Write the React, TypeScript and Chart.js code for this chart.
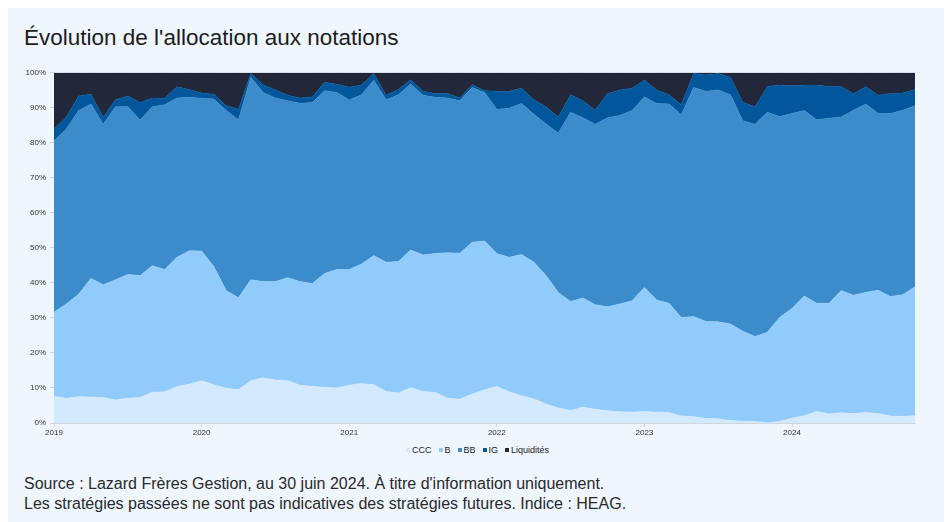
import React, { useEffect, useRef } from "react";
import { Chart, registerables } from "chart.js";

Chart.register(...registerables);

const MONTH_COUNT = 71; // janv. 2019 -> nov. 2024
const yearTicks = ["2019", "2020", "2021", "2022", "2023", "2024"];
const yTickValues = [0, 10, 20, 30, 40, 50, 60, 70, 80, 90, 100];

const seriesNames = ["CCC", "B", "BB", "IG", "Liquidités"];
const seriesColors = ["#d3e9fe", "#91cbfb", "#3c8bcb", "#02569b", "#23273a"];

const ccc = [7.6, 7.1, 7.5, 7.4, 7.3, 6.6, 7.1, 7.3, 8.8, 8.9, 10.4, 11.1, 12.1, 10.9, 9.9, 9.5, 12.1, 12.9, 12.3, 12.1, 10.8, 10.4, 10.2, 10.0, 10.8, 11.3, 10.9, 9.0, 8.6, 10.1, 9.0, 8.7, 7.1, 6.8, 8.3, 9.5, 10.4, 8.9, 7.8, 6.9, 5.4, 4.3, 3.6, 4.5, 3.9, 3.5, 3.2, 3.1, 3.3, 3.1, 3.0, 2.0, 1.8, 1.3, 1.2, 0.7, 0.5, 0.4, 0.1, 0.4, 1.4, 2.1, 3.3, 2.6, 2.9, 2.7, 3.0, 2.7, 2.0, 1.9, 2.1];
const b = [24.0, 26.9, 29.3, 33.9, 32.2, 34.3, 35.3, 34.8, 36.1, 34.9, 36.9, 38.1, 37.0, 33.8, 27.9, 26.3, 28.8, 27.5, 28.1, 29.4, 29.6, 29.4, 32.5, 33.8, 33.0, 34.1, 36.9, 36.9, 37.5, 39.3, 39.0, 39.7, 41.5, 41.7, 43.3, 42.5, 38.0, 38.4, 40.3, 39.1, 36.7, 33.0, 31.1, 31.2, 29.9, 29.7, 30.8, 31.8, 35.4, 32.0, 31.2, 28.1, 28.6, 27.7, 27.7, 27.6, 25.7, 24.3, 25.8, 29.8, 31.3, 34.2, 30.9, 31.6, 34.9, 33.8, 34.3, 35.2, 34.1, 34.7, 36.8];
const bb = [49.0, 49.9, 52.4, 49.8, 45.8, 49.4, 47.9, 44.4, 45.4, 47.1, 45.5, 43.8, 43.6, 47.8, 51.4, 50.8, 57.8, 54.0, 52.4, 50.5, 50.9, 51.7, 52.2, 50.6, 48.4, 48.3, 50.1, 46.4, 47.6, 47.4, 45.6, 44.6, 44.2, 43.5, 44.2, 42.4, 41.2, 42.6, 43.1, 42.2, 43.3, 45.5, 54.0, 51.5, 51.5, 54.0, 53.8, 54.3, 54.4, 56.1, 56.9, 57.9, 65.4, 65.7, 66.2, 65.4, 60.1, 60.6, 62.8, 57.3, 55.7, 52.9, 52.4, 52.8, 49.6, 52.8, 53.8, 50.5, 52.3, 52.7, 51.7];
const ig = [3.3, 3.4, 4.2, 2.8, 2.0, 2.0, 3.1, 5.0, 2.5, 1.8, 3.2, 2.2, 1.5, 1.4, 1.4, 3.0, 1.1, 2.2, 2.3, 1.6, 1.5, 1.6, 2.4, 2.3, 3.7, 2.8, 1.9, 1.3, 1.5, 1.2, 1.1, 1.1, 1.3, 0.8, 0.8, 0.5, 5.1, 4.8, 4.4, 4.1, 4.9, 4.6, 5.0, 4.8, 4.1, 6.8, 7.3, 6.4, 4.8, 3.9, 2.6, 2.9, 4.0, 4.7, 4.7, 5.0, 5.3, 5.0, 7.4, 9.0, 7.9, 7.3, 9.9, 9.1, 8.6, 4.7, 4.9, 5.2, 5.7, 4.9, 4.6];
const liquidites = [16.1, 12.7, 6.6, 6.1, 12.7, 7.7, 6.6, 8.5, 7.2, 7.3, 4.0, 4.8, 5.8, 6.1, 9.4, 10.4, 0.2, 3.4, 4.9, 6.4, 7.2, 6.9, 2.7, 3.3, 4.1, 3.5, 0.2, 6.4, 4.8, 2.0, 5.3, 5.9, 5.9, 7.2, 3.4, 5.1, 5.3, 5.3, 4.4, 7.7, 9.7, 12.6, 6.3, 8.0, 10.6, 6.0, 4.9, 4.4, 2.1, 4.9, 6.3, 9.1, 0.2, 0.6, 0.2, 1.3, 8.4, 9.7, 3.9, 3.5, 3.7, 3.5, 3.5, 3.9, 4.0, 6.0, 4.0, 6.4, 5.9, 5.8, 4.8];

const seriesValues = [ccc, b, bb, ig, liquidites];

const FONT = '"Liberation Sans", Arial, Helvetica, sans-serif';

export default function App() {
  const canvasRef = useRef<HTMLCanvasElement | null>(null);

  useEffect(() => {
    const canvas = canvasRef.current;
    if (!canvas) return;
    const datasets = seriesNames.map((name, k) => ({
      label: name,
      data: seriesValues[k].map((v, i) => ({ x: i, y: v })),
      backgroundColor: seriesColors[k],
      borderColor: seriesColors[k],
      borderWidth: 0.6,
      pointRadius: 0,
      pointHoverRadius: 0,
      tension: 0,
      fill: k === 0 ? "origin" : "-1",
    }));

    const chart = new Chart(canvas, {
      type: "line",
      data: { datasets },
      options: {
        animation: false,
        responsive: false,
        maintainAspectRatio: false,
        layout: { padding: { top: 8, right: 15, left: 0, bottom: 0 } },
        plugins: {
          legend: { display: false },
          tooltip: { enabled: false },
        },
        scales: {
          x: {
            type: "linear",
            min: 0,
            max: MONTH_COUNT - 1,
            grid: { drawOnChartArea: false, tickLength: 4, color: "#cfd6de" },
            border: { color: "#cfd6de" },
            afterBuildTicks: (scale: any) => {
              scale.ticks = yearTicks.map((_, j) => ({ value: j * 12 }));
            },
            ticks: {
              autoSkip: false,
              maxRotation: 0,
              padding: 1,
              color: "#333",
              font: { family: FONT, size: 8 },
              callback: (v: any) => yearTicks[Math.round(Number(v) / 12)] ?? "",
            },
            afterFit: (scale: any) => {
              scale.height = 16;
            },
          },
          y: {
            stacked: true,
            min: 0,
            max: 100,
            afterBuildTicks: (scale: any) => {
              scale.ticks = yTickValues.map((v) => ({ value: v }));
            },
            grid: { drawOnChartArea: false, tickLength: 4, color: "#cfd6de" },
            border: { color: "#cfd6de" },
            ticks: {
              padding: 4,
              color: "#333",
              font: { family: FONT, size: 8 },
              callback: (v: any) => `${v}%`,
            },
            afterFit: (scale: any) => {
              scale.width = 38;
            },
          },
        },
      },
    });
    return () => chart.destroy();
  }, []);

  return (
    <div
      style={{
        position: "fixed",
        left: 8,
        top: 8,
        width: 936,
        height: 514,
        background: "#eff6fe",
        fontFamily: FONT,
        color: "#222",
      }}
    >
      <div
        style={{
          position: "absolute",
          left: 16,
          top: 17,
          fontSize: 22.5,
          lineHeight: "26px",
          color: "#1c1c1c",
          whiteSpace: "nowrap",
        }}
      >
        Évolution de l'allocation aux notations
      </div>
      <canvas
        ref={canvasRef}
        width={914}
        height={375}
        style={{ position: "absolute", left: 8, top: 56, width: 914, height: 375 }}
      />
      <div
        style={{
          position: "absolute",
          left: 398,
          top: 437,
          height: 10,
          display: "flex",
          alignItems: "center",
          fontSize: 9,
          lineHeight: "10px",
          color: "#222",
          whiteSpace: "nowrap",
        }}
      >
        {seriesNames.map((name, k) => (
          <div key={name} style={{ display: "flex", alignItems: "center", marginRight: 7 }}>
            <span
              style={{
                display: "inline-block",
                width: 4,
                height: 4,
                background: seriesColors[k],
                marginRight: 2,
              }}
            />
            <span>{name}</span>
          </div>
        ))}
      </div>
      <div
        style={{
          position: "absolute",
          left: 16,
          top: 466,
          fontSize: 16,
          lineHeight: "20px",
          color: "#2a2a2a",
          whiteSpace: "nowrap",
        }}
      >
        <div>Source : Lazard Frères Gestion, au 30 juin 2024. À titre d'information uniquement.</div>
        <div>Les stratégies passées ne sont pas indicatives des stratégies futures. Indice : HEAG.</div>
      </div>
    </div>
  );
}
